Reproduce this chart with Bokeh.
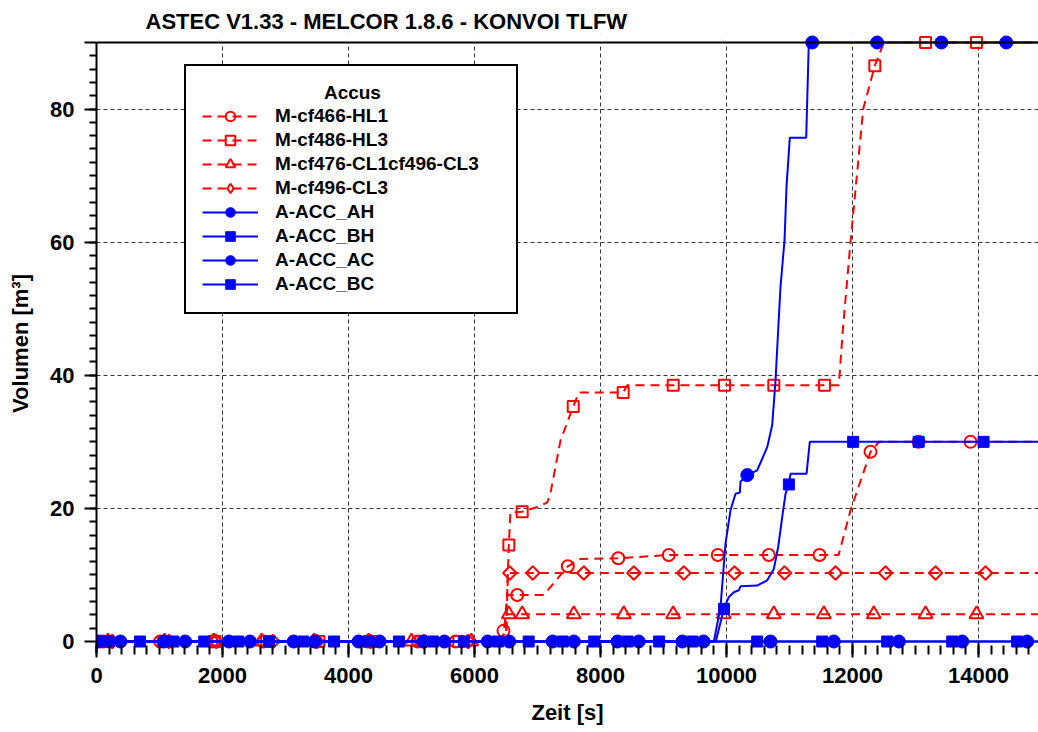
import math
from bokeh.plotting import figure
from bokeh.models import Range1d, SingleIntervalTicker, FixedTicker, Legend, LegendItem, Span, BoxAnnotation
from bokeh.embed import file_html
from bokeh.resources import INLINE

FONT = "Liberation Sans"
T_END = 14952

# ---- curves (time [s], volume [m3]) ----
hl1_t = [0, 6440, 6470, 6520, 7100, 7481, 7682, 8281, 9084, 11780, 11968, 12286, 12420, T_END]
hl1_v = [0, 0, 1.6, 7.0, 7.0, 11.3, 12.4, 12.5, 13.0, 13.0, 19.7, 28.5, 30.0, 30.0]

hl3_t = [0, 6450, 6510, 6545, 6570, 6757, 7000, 7154, 7200, 7365, 7567, 7656, 8360, 8423, 11783, 11846, 11968, 12170, 12354, 12497, T_END]
hl3_v = [0, 0, 5.0, 14.5, 19.4, 19.5, 20.2, 20.9, 22.0, 30.2, 35.3, 37.4, 37.4, 38.5, 38.5, 46.8, 60.0, 80.0, 86.5, 90.0, 90.0]

cl1_t = [0, 6490, 6520, T_END]
cl1_v = [0, 0, 4.1, 4.1]

cl3_t = [0, 6500, 6530, T_END]
cl3_v = [0, 0, 10.3, 10.3]

ah_t = [0, 9799, 9905, 9984, 10063, 10143, 10212, 10222, 10328, 10487, 10646, 10725, 10778, 10820, 10857, 10921, 10952, 11005, 11265, 11306, T_END]
ah_v = [0, 0, 5.2, 14.7, 19.7, 22.2, 22.4, 24.0, 25.0, 25.7, 29.2, 32.5, 39.2, 46.8, 53.3, 60.3, 68.3, 75.7, 75.7, 90.0, 90.0]

bh_t = [0, 9830, 9957, 10037, 10116, 10195, 10222, 10487, 10646, 10751, 10820, 10884, 10937, 10989, 11016, 11270, 11322, T_END]
bh_v = [0, 0, 4.9, 6.7, 7.4, 7.7, 8.3, 8.4, 9.2, 10.9, 14.2, 18.7, 22.2, 23.6, 25.2, 25.2, 30.0, 30.0]

ac_t = [0, T_END]
ac_v = [0, 0]

bc_t = [0, T_END]
bc_v = [0, 0]

# ---- marker positions ----
hl1_mx = [100, 1010, 1830, 2650, 3480, 4300, 5100, 5700, 6460, 6678, 7481, 8281, 9084, 9862, 10671, 11476, 12286, 13048, 13873]
hl1_my = [0, 0, 0, 0, 0, 0, 0, 0, 1.6, 7.0, 11.3, 12.5, 13.0, 13.0, 13.0, 13.0, 28.5, 30.0, 30.0]

hl3_mx = [150, 1060, 1880, 2700, 3530, 4350, 5150, 5750, 6545, 6757, 7567, 8360, 9154, 9968, 10751, 11556, 12354, 13159, 13968]
hl3_my = [0, 0, 0, 0, 0, 0, 0, 0, 14.5, 19.5, 35.3, 37.4, 38.5, 38.5, 38.5, 38.5, 86.5, 90.0, 90.0]

cl1_mx = [180, 1080, 1860, 2620, 3450, 4320, 5000, 5950, 6545, 6757, 7576, 8370, 9153, 9957, 10751, 11545, 12338, 13159, 13968]
cl1_my = [0, 0, 0, 0, 0, 0, 0, 0, 4.1, 4.1, 4.1, 4.1, 4.1, 4.1, 4.1, 4.1, 4.1, 4.1, 4.1]

cl3_mx = [250, 1150, 1900, 2800, 3500, 4350, 5200, 5900, 6560, 6925, 7735, 8529, 9322, 10127, 10921, 11730, 12524, 13317, 14111]
cl3_my = [0, 0, 0, 0, 0, 0, 0, 0, 10.3, 10.3, 10.3, 10.3, 10.3, 10.3, 10.3, 10.3, 10.3, 10.3, 10.3]

ah_mx = [40, 1070, 2100, 3130, 4160, 5190, 6210, 7240, 8270, 9300, 10330, 11360, 12390, 13410, 14440]
ah_my = [0, 0, 0, 0, 0, 0, 0, 0, 0, 0, 25.0, 90.0, 90.0, 90.0, 90.0]

bh_mx = [690, 1710, 2740, 3770, 4800, 5830, 6860, 7900, 8930, 9960, 10990, 12010, 13050, 14080]
bh_my = [0, 0, 0, 0, 0, 0, 0, 0, 0, 4.9, 23.6, 30.0, 30.0, 30.0]

ac_mx = [379, 1407, 2436, 3464, 4493, 5521, 6550, 7578, 8607, 9635, 10698, 11703, 12735, 13741, 14773]
ac_my = [0, 0, 0, 0, 0, 0, 0, 0, 0, 0, 0, 0, 0, 0, 0]

bc_mx = [190, 1220, 2250, 3280, 4310, 5340, 6370, 7400, 8430, 9460, 10487, 11519, 12550, 13582, 14613]
bc_my = [0, 0, 0, 0, 0, 0, 0, 0, 0, 0, 0, 0, 0, 0, 0]

labels = ["M-cf466-HL1", "M-cf486-HL3", "M-cf476-CL1cf496-CL3", "M-cf496-CL3",
          "A-ACC_AH", "A-ACC_BH", "A-ACC_AC", "A-ACC_BC"]
legend_title = "Accus"

y_major = [0, 20, 40, 60, 80, 90]
y_minor = list(range(2, 90, 2))

p = figure(width=1038, height=732, output_backend="svg", toolbar_location=None,
           x_range=Range1d(0, T_END), y_range=Range1d(-1.65, 91.2),
           min_border_left=96, min_border_right=0, min_border_top=34, min_border_bottom=80,
           background_fill_color="white", border_fill_color="white")
p.outline_line_color = None

p.title.text = "ASTEC V1.33 - MELCOR 1.8.6 - KONVOI TLFW"
p.title.text_font = FONT
p.title.text_font_size = "22px"
p.title.text_font_style = "bold"
p.title.text_color = "black"
p.title.align = "left"
p.title.offset = 49
p.title.standoff = 2

# axes
xa = p.xaxis[0]
xa.ticker = SingleIntervalTicker(interval=2000, num_minor_ticks=10)
xa.axis_line_color = None
xa.major_tick_in = 10
xa.major_tick_out = 5
xa.minor_tick_in = 7
xa.minor_tick_out = 2
xa.major_tick_line_width = 2
xa.minor_tick_line_width = 2
xa.major_label_standoff = 10
xa.axis_label = "Zeit [s]"
xa.axis_label_standoff = 14

ya = p.yaxis[0]
ya.ticker = FixedTicker(ticks=y_major, minor_ticks=y_minor)
ya.major_label_overrides = {90: ""}
ya.bounds = (-1.65, 90)
ya.axis_line_width = 2
ya.major_tick_in = 0
ya.major_tick_out = 12
ya.minor_tick_in = 0
ya.minor_tick_out = 7
ya.major_tick_line_width = 2
ya.minor_tick_line_width = 2
ya.major_label_standoff = 10
ya.axis_label = "Volumen [m³]"
ya.axis_label_standoff = 14

for ax in (xa, ya):
    ax.major_label_text_font = FONT
    ax.major_label_text_font_size = "22px"
    ax.major_label_text_font_style = "bold"
    ax.major_label_text_color = "black"
    ax.axis_label_text_font = FONT
    ax.axis_label_text_font_size = "22px"
    ax.axis_label_text_font_style = "bold"
    ax.axis_label_text_color = "black"

for g in (p.xgrid[0], p.ygrid[0]):
    g.grid_line_color = "#333333"
    g.grid_line_dash = "4 3"
    g.grid_line_width = 1
p.xgrid[0].ticker = xa.ticker
p.ygrid[0].ticker = ya.ticker

# mask grid outside 0..90
p.add_layout(BoxAnnotation(bottom=90, fill_color="white", fill_alpha=1.0, line_color=None, level="underlay"))
p.add_layout(BoxAnnotation(top=0, fill_color="white", fill_alpha=1.0, line_color=None, level="underlay"))
p.add_layout(Span(location=90, dimension="width", line_color="black", line_width=2))

RED = "#ff0000"
BLUE = "#0000ff"
DASH = "9 6"

items = []
red_specs = [
    (hl1_t, hl1_v, hl1_mx, hl1_my, "circle", 12, 0.0),
    (hl3_t, hl3_v, hl3_mx, hl3_my, "square", 11, 0.0),
    (cl1_t, cl1_v, cl1_mx, cl1_my, "triangle", 14, 0.0),
    (cl3_t, cl3_v, cl3_mx, cl3_my, "square", 9.5, math.pi / 4),
]
for (t, v, mx, my, mk, sz, ang), lab in zip(red_specs, labels[:4]):
    lr = p.line(t, v, line_color=RED, line_width=2, line_dash=DASH)
    sr = p.scatter(mx, my, marker=mk, size=sz, angle=ang, line_color=RED, fill_color=None, line_width=2)
    if ang:
        # legend swatch only (hidden in the plot): legends do not rotate markers
        sr = p.scatter(mx, my, marker="diamond", size=15, line_color=RED, fill_color=None,
                       line_width=2, visible=False)
    items.append(LegendItem(label=lab, renderers=[lr, sr]))

blue_specs = [
    (ah_t, ah_v, ah_mx, ah_my, "circle", 13),
    (bh_t, bh_v, bh_mx, bh_my, "square", 11),
    (ac_t, ac_v, ac_mx, ac_my, "circle", 13),
    (bc_t, bc_v, bc_mx, bc_my, "square", 11),
]
for (t, v, mx, my, mk, sz), lab in zip(blue_specs, labels[4:]):
    lr = p.line(t, v, line_color=BLUE, line_width=2)
    sr = p.scatter(mx, my, marker=mk, size=sz, line_color=BLUE, fill_color=BLUE, line_width=1)
    items.append(LegendItem(label=lab, renderers=[lr, sr]))

# heading pushed to the box centre with non-collapsing spaces
title_pad = "\u2003" * 6 + "\u2005" + "\u2006"
legend = Legend(items=items, location=(88, 338), title=title_pad + legend_title)
legend.title_text_font = FONT
legend.title_text_font_size = "19px"
legend.title_text_font_style = "bold"
legend.title_text_color = "black"
legend.title_standoff = 0
legend.label_text_font = FONT
legend.label_text_font_size = "19px"
legend.label_text_font_style = "bold"
legend.label_text_color = "black"
legend.glyph_width = 56
legend.glyph_height = 24
legend.label_height = 20
legend.label_width = 225
legend.label_standoff = 17
legend.spacing = 0
legend.padding = 16
legend.margin = 0
legend.inactive_fill_alpha = 0.0
legend.border_line_color = "black"
legend.border_line_alpha = 1.0
legend.border_line_width = 2
legend.background_fill_color = "white"
legend.background_fill_alpha = 1.0
p.add_layout(legend)

open("out.html", "w").write(file_html(p, INLINE))
